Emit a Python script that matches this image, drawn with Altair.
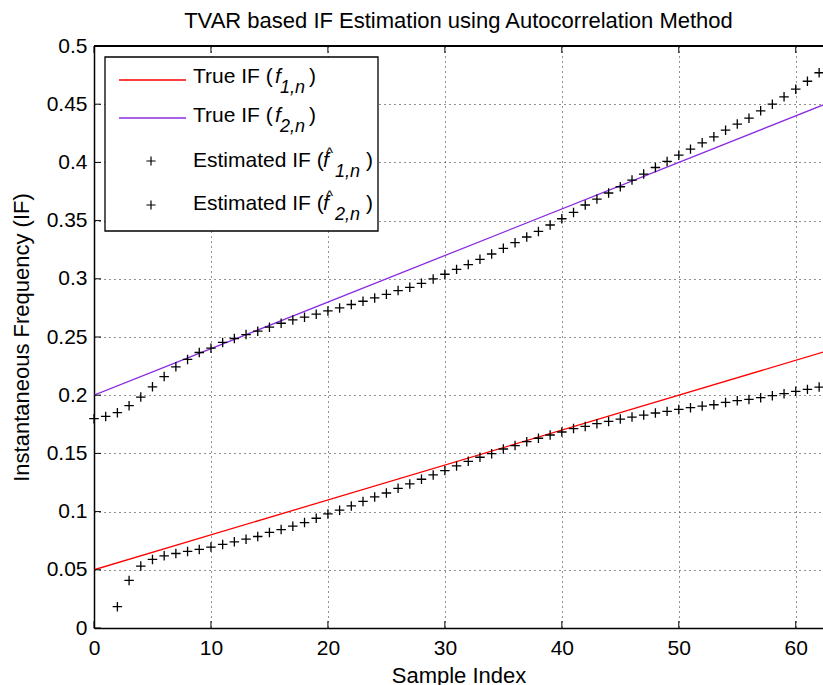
import altair as alt
import pandas as pd

# ---- data -------------------------------------------------------------
# estimated instantaneous frequency of component 1 (samples 2..62)
n_hat1 = list(range(2, 63))
f_hat1 = [
    0.0183, 0.0409, 0.0532, 0.0589, 0.0620, 0.0640, 0.0658, 0.0675, 0.0695,
    0.0718, 0.0740, 0.0763, 0.0786, 0.0821, 0.0846, 0.0875, 0.0906, 0.0943,
    0.0980, 0.1012, 0.1049, 0.1087, 0.1126, 0.1160, 0.1200, 0.1238, 0.1278,
    0.1315, 0.1352, 0.1392, 0.1432, 0.1467, 0.1498, 0.1538, 0.1567, 0.1601,
    0.1630, 0.1658, 0.1684, 0.1713, 0.1732, 0.1755, 0.1775, 0.1795, 0.1812,
    0.1829, 0.1847, 0.1861, 0.1878, 0.1893, 0.1907, 0.1918, 0.1938, 0.1953,
    0.1964, 0.1979, 0.1996, 0.2013, 0.2033, 0.2050, 0.2070,
]

# estimated instantaneous frequency of component 2 (samples 0..62)
n_hat2 = list(range(0, 63))
f_hat2 = [
    0.1798, 0.1818, 0.1850, 0.1910, 0.1984, 0.2072, 0.2160, 0.2244, 0.2307,
    0.2367, 0.2404, 0.2453, 0.2487, 0.2521, 0.2550, 0.2584, 0.2618, 0.2647,
    0.2670, 0.2696, 0.2724, 0.2750, 0.2779, 0.2807, 0.2836, 0.2867, 0.2899,
    0.2927, 0.2961, 0.2999, 0.3039, 0.3081, 0.3122, 0.3167, 0.3213, 0.3262,
    0.3310, 0.3359, 0.3407, 0.3462, 0.3516, 0.3570, 0.3634, 0.3685, 0.3737,
    0.3791, 0.3848, 0.3900, 0.3956, 0.4008, 0.4062, 0.4114, 0.4168, 0.4220,
    0.4277, 0.4329, 0.4380, 0.4443, 0.4500, 0.4563, 0.4629, 0.4697, 0.4770,
]

# true (linear) instantaneous frequencies, given by their end points
n_true = [0, 63]
f_true1 = [0.05, 0.239]
f_true2 = [0.20, 0.452]

x_ticks = [0, 10, 20, 30, 40, 50, 60]
y_ticks = [0, 0.05, 0.1, 0.15, 0.2, 0.25, 0.3, 0.35, 0.4, 0.45, 0.5]

# ---- layout constants -------------------------------------------------
W, H = 729, 582
X_MAX = 62.33
FONT = "Liberation Sans"
RED = "#ff0000"
PURPLE = "#8a2be2"
PLUS = "M-1,0L1,0M0,-1L0,1"

xs = alt.Scale(domain=[0, X_MAX], nice=False, zero=False)
ys = alt.Scale(domain=[0, 0.5], nice=False, zero=False)

est1 = pd.DataFrame({"n": n_hat1, "f": f_hat1})
est2 = pd.DataFrame({"n": n_hat2, "f": f_hat2})
true1 = pd.DataFrame({"n": n_true, "f": f_true1})
true2 = pd.DataFrame({"n": n_true, "f": f_true2})

x_axis = alt.Axis(
    values=x_ticks, title="Sample Index", grid=True, gridDash=[1, 4],
    gridColor="#222222", gridOpacity=1, ticks=False, domainColor="#000000",
    domainWidth=1.5, labelFont=FONT, labelFontSize=21, labelColor="#000000",
    labelPadding=9, titleFont=FONT, titleFontSize=22, titleFontWeight="normal",
    titleColor="#000000", titleBaseline="alphabetic", titleY=54,
    titleX=W / 2, labelFlush=False,
)
y_axis = alt.Axis(
    values=y_ticks, title="Instantaneous Frequency (IF)", grid=True,
    gridDash=[1, 4], gridColor="#222222", gridOpacity=1, ticks=False,
    domainColor="#000000", domainWidth=1.5, labelFont=FONT, labelFontSize=21,
    labelColor="#000000", labelPadding=7, labelFlush=False,
    labelExpr="format(datum.value, '.2~f')",
    titleFont=FONT, titleFontSize=22, titleFontWeight="normal",
    titleColor="#000000", titleAngle=-90, titleBaseline="alphabetic",
    titleAlign="center", titleX=-66, titleY=H / 2,
)

X = alt.X("n:Q", scale=xs, axis=x_axis)
Y = alt.Y("f:Q", scale=ys, axis=y_axis)

line1 = alt.Chart(true1).mark_line(color=RED, strokeWidth=1.3, clip=True).encode(x=X, y=Y)
line2 = alt.Chart(true2).mark_line(color=PURPLE, strokeWidth=1.3, clip=True).encode(x=X, y=Y)


def plus_layer(df):
    return alt.Chart(df).mark_point(
        shape=PLUS, size=90, filled=False, color="#000000", strokeWidth=1.3,
        opacity=1,
    ).encode(x=X, y=Y)


pts1 = plus_layer(est1)
pts2 = plus_layer(est2)

# inward tick marks on the bottom, top and left edges
tx = pd.DataFrame({"n": x_ticks})
ty = pd.DataFrame({"f": y_ticks})
ticks_bottom = alt.Chart(tx).mark_rule(color="#000000", strokeWidth=1).encode(
    x=X, y=alt.value(H), y2=alt.value(H - 7)
)
ticks_top = alt.Chart(tx).mark_rule(color="#000000", strokeWidth=1).encode(
    x=X, y=alt.value(0), y2=alt.value(7)
)
ticks_left = alt.Chart(ty).mark_rule(color="#000000", strokeWidth=1).encode(
    y=Y, x=alt.value(0), x2=alt.value(7)
)
top_border = alt.Chart(tx).mark_rule(color="#000000", strokeWidth=1.5).encode(
    x=alt.value(0), x2=alt.value(W), y=alt.value(0)
)

# ---- legend ----------------------------------------------------------
one = alt.Data(values=[{"k": 0}])

legend_box = alt.Chart(one).mark_rect(
    fill="#ffffff", stroke="#000000", strokeWidth=1.3
).encode(x=alt.value(11), x2=alt.value(284), y=alt.value(11), y2=alt.value(185))


def seg(y, color):
    return alt.Chart(one).mark_rule(color=color, strokeWidth=1.3).encode(
        x=alt.value(25), x2=alt.value(92), y=alt.value(y)
    )


def plus_key(y):
    return alt.Chart(one).mark_point(
        shape=PLUS, size=85, filled=False, color="#000000", strokeWidth=1.2,
        opacity=1,
    ).encode(x=alt.value(57), y=alt.value(y))


def txt(s, x, y, size=21, style="normal"):
    return alt.Chart(one).mark_text(
        text=s, font=FONT, fontSize=size, fontStyle=style, align="left",
        baseline="alphabetic", color="#000000",
    ).encode(x=alt.value(x), y=alt.value(y))


def sub_text(idx, x0, base):
    # subscript "k,n" set in italic, slightly below the main baseline
    return [
        txt(idx, x0, base + 10, size=18, style="italic"),
        txt(",", x0 + 10, base + 10, size=18, style="italic"),
        txt("n", x0 + 15, base + 10, size=18, style="italic"),
    ]


legend = [legend_box, seg(34, RED), seg(72, PURPLE), plus_key(115), plus_key(159)]

for base, idx in [(37, "1"), (76, "2")]:
    legend += [txt("True IF (", 99, base), txt("f", 181, base, style="italic")]
    legend += sub_text(idx, 186, base)
    legend += [txt(")", 215, base)]

for base, idx in [(121, "1"), (164, "2")]:
    legend += [
        txt("Estimated IF (", 99, base),
        txt("f", 229, base, style="italic"),
        txt("^", 232, base - 9, size=15),
    ]
    legend += sub_text(idx, 241, base)
    legend += [txt(")", 272, base)]

chart = alt.layer(
    line1, line2, pts1, pts2, ticks_bottom, ticks_top, ticks_left, top_border,
    *legend,
).properties(
    width=W,
    height=H,
    autosize=alt.AutoSizeParams(type="none"),
    padding={"left": 94, "top": 46, "right": 0, "bottom": 57},
    title=alt.TitleParams(
        "TVAR based IF Estimation using Autocorrelation Method",
        font=FONT, fontSize=22, fontWeight="normal", color="#000000",
        anchor="middle", frame="group", offset=2,
    ),
).configure_view(stroke=None).configure(background="#ffffff")

chart.save("out.html", embed_options={"renderer": "svg", "actions": False})
